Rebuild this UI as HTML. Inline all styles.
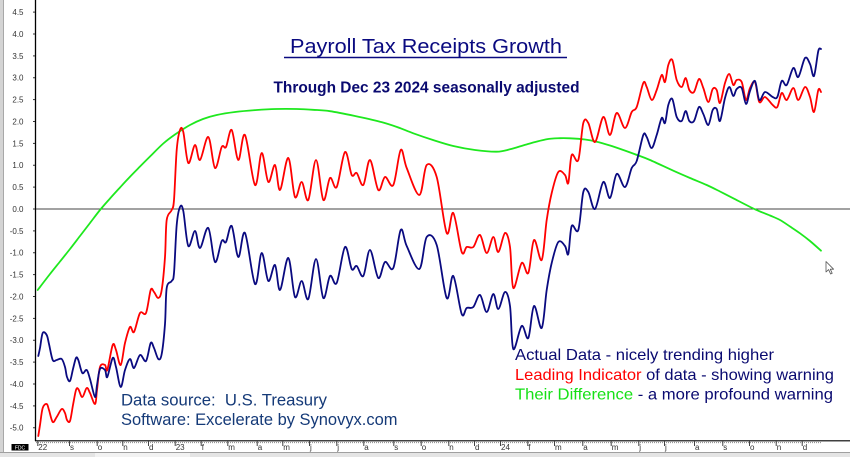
<!DOCTYPE html>
<html><head><meta charset="utf-8"><style>
html,body{margin:0;padding:0;background:#fff;}
svg{display:block;}
text{font-family:"Liberation Sans",Arial,sans-serif;}
</style></head><body>
<svg id="chart" width="850" height="457" viewBox="0 0 850 457" xmlns="http://www.w3.org/2000/svg">
<rect x="0" y="0" width="850" height="457" fill="#fff"/>
<!-- left gray strip -->
<rect x="0" y="0" width="3" height="457" fill="#d4d4d4"/>
<line x1="3.5" y1="0" x2="3.5" y2="452" stroke="#a8a8a8" stroke-width="1"/>
<!-- bottom gray bar -->
<rect x="0" y="452" width="850" height="5" fill="#e4e4e4"/>
<line x1="0" y1="452.5" x2="850" y2="452.5" stroke="#a0a0a0" stroke-width="1"/>
<rect x="95" y="453" width="95" height="4" fill="#f2f2f2"/>

<!-- axes -->
<line x1="35.5" y1="0" x2="35.5" y2="441" stroke="#000" stroke-width="1.3"/>
<line x1="35" y1="440.8" x2="850" y2="440.8" stroke="#000" stroke-width="1.2"/>
<line x1="36" y1="442.6" x2="821" y2="442.6" stroke="#8a8a8a" stroke-width="1" stroke-dasharray="1,1"/>
<line x1="36" y1="209" x2="850" y2="209" stroke="#444" stroke-width="1"/>

<!-- y ticks & labels -->
<g stroke="#333" stroke-width="1">
<line x1="33" y1="12.1" x2="35" y2="12.1"/><line x1="33" y1="34" x2="35" y2="34"/><line x1="33" y1="55.9" x2="35" y2="55.9"/><line x1="33" y1="77.75" x2="35" y2="77.75"/><line x1="33" y1="99.6" x2="35" y2="99.6"/><line x1="33" y1="121.5" x2="35" y2="121.5"/><line x1="33" y1="143.4" x2="35" y2="143.4"/><line x1="33" y1="165.25" x2="35" y2="165.25"/><line x1="33" y1="187.1" x2="35" y2="187.1"/><line x1="33" y1="209" x2="35" y2="209"/><line x1="33" y1="230.9" x2="35" y2="230.9"/><line x1="33" y1="252.75" x2="35" y2="252.75"/><line x1="33" y1="274.6" x2="35" y2="274.6"/><line x1="33" y1="296.5" x2="35" y2="296.5"/><line x1="33" y1="318.4" x2="35" y2="318.4"/><line x1="33" y1="340.25" x2="35" y2="340.25"/><line x1="33" y1="362.1" x2="35" y2="362.1"/><line x1="33" y1="384" x2="35" y2="384"/><line x1="33" y1="405.9" x2="35" y2="405.9"/><line x1="33" y1="427.75" x2="35" y2="427.75"/>
</g>
<g font-size="8" fill="#333" text-anchor="end">
<text x="23.5" y="15">4.5</text><text x="23.5" y="37">4.0</text><text x="23.5" y="59">3.5</text><text x="23.5" y="80.7">3.0</text><text x="23.5" y="102.6">2.5</text><text x="23.5" y="124.5">2.0</text><text x="23.5" y="146.4">1.5</text><text x="23.5" y="168.2">1.0</text><text x="23.5" y="190.1">0.5</text><text x="23.5" y="212">0.0</text><text x="23.5" y="233.9">-0.5</text><text x="23.5" y="255.7">-1.0</text><text x="23.5" y="277.6">-1.5</text><text x="23.5" y="299.5">-2.0</text><text x="23.5" y="321.4">-2.5</text><text x="23.5" y="343.2">-3.0</text><text x="23.5" y="365.1">-3.5</text><text x="23.5" y="387">-4.0</text><text x="23.5" y="408.9">-4.5</text><text x="23.5" y="430.7">-5.0</text>
</g>

<!-- x ticks & labels -->
<g stroke="#444" stroke-width="1">
<line x1="37.8" y1="441" x2="37.8" y2="446"/><line x1="69.5" y1="441" x2="69.5" y2="446"/><line x1="97.2" y1="441" x2="97.2" y2="446"/><line x1="122.8" y1="441" x2="122.8" y2="446"/><line x1="148.5" y1="441" x2="148.5" y2="446"/><line x1="175.2" y1="441" x2="175.2" y2="446"/><line x1="201.2" y1="441" x2="201.2" y2="446"/><line x1="227.8" y1="441" x2="227.8" y2="446"/><line x1="257.2" y1="441" x2="257.2" y2="446"/><line x1="282.8" y1="441" x2="282.8" y2="446"/><line x1="309.5" y1="441" x2="309.5" y2="446"/><line x1="336.8" y1="441" x2="336.8" y2="446"/><line x1="363.8" y1="441" x2="363.8" y2="446"/><line x1="393.8" y1="441" x2="393.8" y2="446"/><line x1="421.2" y1="441" x2="421.2" y2="446"/><line x1="448.8" y1="441" x2="448.8" y2="446"/><line x1="474.5" y1="441" x2="474.5" y2="446"/><line x1="500.5" y1="441" x2="500.5" y2="446"/><line x1="527.8" y1="441" x2="527.8" y2="446"/><line x1="554.5" y1="441" x2="554.5" y2="446"/><line x1="582.8" y1="441" x2="582.8" y2="446"/><line x1="611.2" y1="441" x2="611.2" y2="446"/><line x1="638.8" y1="441" x2="638.8" y2="446"/><line x1="664.5" y1="441" x2="664.5" y2="446"/><line x1="694.5" y1="441" x2="694.5" y2="446"/><line x1="722.8" y1="441" x2="722.8" y2="446"/><line x1="749.5" y1="441" x2="749.5" y2="446"/><line x1="776.2" y1="441" x2="776.2" y2="446"/><line x1="802.2" y1="441" x2="802.2" y2="446"/>
</g>
<g font-size="8" fill="#333">
<text x="38.3" y="450">22</text><text x="70" y="450">s</text><text x="97.7" y="450">o</text><text x="123.3" y="450">n</text><text x="149" y="450">d</text><text x="175.7" y="450">23</text><text x="201.7" y="450">f</text><text x="228.3" y="450">m</text><text x="257.7" y="450">a</text><text x="283.3" y="450">m</text><text x="310" y="450">j</text><text x="337.3" y="450">j</text><text x="364.3" y="450">a</text><text x="394.3" y="450">s</text><text x="421.7" y="450">o</text><text x="449.3" y="450">n</text><text x="475" y="450">d</text><text x="501" y="450">24</text><text x="528.3" y="450">f</text><text x="555" y="450">m</text><text x="583.3" y="450">a</text><text x="611.7" y="450">m</text><text x="639.3" y="450">j</text><text x="665" y="450">j</text><text x="695" y="450">a</text><text x="723.3" y="450">s</text><text x="750" y="450">o</text><text x="776.7" y="450">n</text><text x="802.7" y="450">d</text>
</g>
<!-- FDC box -->
<rect x="11.5" y="444" width="17" height="6.5" fill="#000"/>
<text x="20" y="449.3" font-size="5" fill="#fff" text-anchor="middle">FDC</text>

<!-- green series -->
<polyline class="sm" fill="none" stroke="#1ee81e" stroke-width="1.8" stroke-linejoin="round" stroke-linecap="round" points="37.7,290 50,274 60,261.5 70,249 80,236 90,223 100,210 110,198.5 120,187.5 130,176.7 140,166.5 150,156.5 163.3,143.5 175,134.5 190,125 203,119 216.7,115 235,112 256.7,110 276,109 296.7,109 313,109.8 330,111.2 355,116 380,121.7 397,127 413.3,133.3 433,140 453.3,146 475,150 496.7,151.7 510,149.3 528,144 546.7,139.3 560,138.2 570,138.3 585,139.5 596.7,141.7 610,145.5 623.3,150 637,155 650,160 673.3,170.7 690,178 706.7,185 720,191.5 733.3,198.3 755,209.3 770,215.5 780,220 790,226.5 800,233.3 810,241 821,250.7"/>

<!-- red series -->
<polyline class="sm" fill="none" stroke="#ff0000" stroke-width="1.8" stroke-linejoin="round" stroke-linecap="round" points="38.3,436 40,425 42.7,408 46.7,404 49,410 52.7,422 56.7,417 61.7,409 65,413 67,420 70,421 73,405 76,390 78.3,389 82.3,397 86.7,388 90,393 95,404 97,390 100,367 105,365 107.3,370 112.7,345 116,350 120.7,365 125,343 130,327 134,332 140,313 146,313 150.7,290 154,292 158.3,298 161.7,290 165,257 166.7,220 171.7,210 174,200 176.7,150 180,130 183.3,132 188.3,163 195,145 200,160 208.3,137 215,168 221.7,147 226,147 231.7,130 238.3,160 245,135 255,185 261.7,153 268.3,182 275,165 280,190 288.3,158 295,197 301.7,182 308.3,200 316,160 323.3,200 330,178 336.7,187 345,152 351.7,175 356.7,173 363.3,185 370,160 378.3,190 385,177 393.3,185 400.7,150 406.7,168 419.3,195 426.7,165 436.7,177 446.7,233 453.3,213 461.7,252 466.7,247 473.3,247 480,235 486.7,253 493.3,237 498.3,252 505,233 510,247 513.3,288 521.7,263 528.3,273 534,240 541.7,260 546.7,220 551.7,193 558.3,172 565,175 568.3,183 571.7,155 578.3,160 583.3,123 588.3,123 595,142 603.3,117 610,135 616.7,113 625,128 631.7,112 636.7,107 643.3,83 646.7,87 651.7,100 656.7,90 661.7,75 665,82 668.3,65 672.3,60 676.7,80 681.7,87 685.7,78 689.3,90 694,92 699,79 703.3,88 708.3,102 712.7,89 716.7,90 720,103 725,83 729.3,74 733.3,85 736.7,80 741.7,82 746,100 750,88 755,82 759.3,102 765,97 772.7,105 777.3,107 781.7,93 786.7,100 793.3,88 798.3,100 805,87 810,97 814,112 818.3,90 821,92"/>

<!-- blue series -->
<polyline class="sm" fill="none" stroke="#0a0a80" stroke-width="1.8" stroke-linejoin="round" stroke-linecap="round" points="38.3,356 40,348 42.7,333 46.7,335 49,344 52.7,360 56.7,360 61.7,359 65,367 67,377 70,381 73,369 76,358 78.3,360 82.3,373 86.7,370 90,379 95,397 97,385 100,369 105,370 107.3,377 112.7,358 116,367 120.7,387 125,370 130,359 134,368 140,355 146,361 150.7,343 154,348 158.3,359 161.7,354 165,324 166.7,288 171.7,281 174,273 176.7,225 180,207 183.3,211 188.3,246 195,231 200,248 208.3,228 215,262 221.7,241 226,242 231.7,226 238.3,257 245,233 255,284 261.7,253 268.3,281 275,265 280,290 288.3,258 295,297 301.7,281 308.3,299 316,259 323.3,298 330,276 336.7,283 345,247 351.7,269 356.7,266 363.3,276 370,250 378.3,278 385,262 393.3,268 400.7,230 406.7,246 419.3,269 426.7,237 436.7,245 446.7,298 453.3,276 461.7,314 466.7,308 473.3,307 480,295 486.7,312 493.3,294 498.3,309 505,292 510,306 513.3,349 521.7,326 528.3,338 534,306 541.7,328 546.7,290 551.7,263 558.3,242 565,246 568.3,254 571.7,226 578.3,230 583.3,192 588.3,192 595,209 603.3,182 610,198 616.7,174 625,187 631.7,168 636.7,161 643.3,135 646.7,137 651.7,148 656.7,135 661.7,118 665,123 668.3,105 672.3,99 676.7,117 681.7,121 685.7,111 689.3,121 694,121 699,107 703.3,114 708.3,125 712.7,110 716.7,109 720,121 725,98 729.3,87 733.3,96 736.7,89 741.7,88 746,104 750,91 755,81 759.3,100 765,92 772.7,97 777.3,97 781.7,81 786.7,85 793.3,68 798.3,77 805,58 810,64 814,76 818.3,51 821,49"/>

<!-- title -->
<text x="290" y="53" font-size="20" fill="#0a0a80" textLength="272" lengthAdjust="spacingAndGlyphs">Payroll Tax Receipts Growth</text>
<line x1="284" y1="57.5" x2="567" y2="57.5" stroke="#0a0a80" stroke-width="1.4"/>
<text x="273.5" y="92.5" font-size="15.4" font-weight="bold" fill="#0a0a70" textLength="306" lengthAdjust="spacingAndGlyphs">Through Dec 23 2024 seasonally adjusted</text>

<!-- legend -->
<text x="515" y="360" font-size="16" fill="#0a0a70" textLength="259" lengthAdjust="spacingAndGlyphs">Actual Data - nicely trending higher</text>
<text x="515" y="380" font-size="16" textLength="319" lengthAdjust="spacingAndGlyphs"><tspan fill="#ff0000">Leading Indicator</tspan><tspan fill="#0a0a70"> of data - showing warning</tspan></text>
<text x="515" y="399.5" font-size="16" textLength="318" lengthAdjust="spacingAndGlyphs"><tspan fill="#16e016">Their Difference</tspan><tspan fill="#0a0a70"> - a more profound warning</tspan></text>

<!-- source -->
<text x="121" y="405.5" font-size="17" fill="#153a78" textLength="206" lengthAdjust="spacingAndGlyphs" xml:space="preserve">Data source:  U.S. Treasury</text>
<text x="121" y="425" font-size="17" fill="#153a78" textLength="276.5" lengthAdjust="spacingAndGlyphs">Software: Excelerate by Synovyx.com</text>

<!-- cursor -->
<polygon points="826,261.5 826,272 828.6,269.6 830.6,274 832.2,273.3 830.3,269.2 833.6,269.2" fill="#fff" stroke="#555" stroke-width="0.8" stroke-linejoin="round"/>
</svg>
<script>
(function(){
  var NS="http://www.w3.org/2000/svg";
  var pls=document.querySelectorAll("polyline.sm");
  for(var k=0;k<pls.length;k++){
    var pl=pls[k];
    var raw=pl.getAttribute("points").trim().split(/\s+/);
    var p=[];
    for(var i=0;i<raw.length;i++){var a=raw[i].split(",");p.push([+a[0],+a[1]]);}
    var d="M"+p[0][0]+","+p[0][1];
    for(var i=0;i<p.length-1;i++){
      var p0=p[i>0?i-1:i],p1=p[i],p2=p[i+1],p3=p[i+2<p.length?i+2:i+1];
      var c1x=p1[0]+(p2[0]-p0[0])/6,c1y=p1[1]+(p2[1]-p0[1])/6;
      var c2x=p2[0]-(p3[0]-p1[0])/6,c2y=p2[1]-(p3[1]-p1[1])/6;
      d+=" C"+c1x.toFixed(2)+","+c1y.toFixed(2)+" "+c2x.toFixed(2)+","+c2y.toFixed(2)+" "+p2[0]+","+p2[1];
    }
    var path=document.createElementNS(NS,"path");
    path.setAttribute("d",d);
    ["fill","stroke","stroke-width","stroke-linejoin","stroke-linecap"].forEach(function(n){path.setAttribute(n,pl.getAttribute(n));});
    pl.parentNode.replaceChild(path,pl);
  }
})();
</script>
</body></html>
